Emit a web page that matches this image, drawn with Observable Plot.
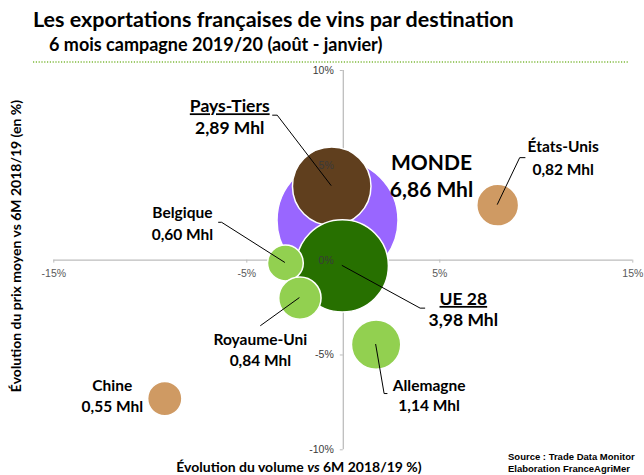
<!DOCTYPE html>
<html><head><meta charset="utf-8">
<script src="https://cdn.jsdelivr.net/npm/d3@7"></script>
<script src="https://cdn.jsdelivr.net/npm/@observablehq/plot@0.6"></script>
<style>
body{margin:0;background:#fff;}
#chart{width:644px;height:475px;}
</style></head><body><div id="chart"></div>
<script>
// ---- data ----
const names = ["MONDE","Pays-Tiers","UE 28","Belgique","Royaume-Uni","Allemagne","États-Unis","Chine"];
const groups = ["Monde","Pays-Tiers","UE 28","UE","UE","UE","Pays tiers","Pays tiers"];
const volumeChange = [-0.3,-0.6,-0.05,-3.0,-2.25,1.7,8.0,-9.25];   // % vs 6M 2018/19
const priceChange = [2.1,3.9,-0.3,-0.15,-2.0,-4.45,2.9,-7.3];      // % vs 6M 2018/19
const volumeMhl = [6.86,2.89,3.98,0.60,0.84,1.14,0.82,0.55];
const xTicks = [-15,-5,5,15];
const yTicks = [10,5,0,-5,-10];
const titleText = "Les exportations françaises de vins par destination";
const subtitleText = "6 mois campagne 2019/20 (août - janvier)";
const yTitle = "Évolution du prix moyen vs 6M 2018/19 (en %)";
const sourceLines = ["Source : Trade Data Monitor","Elaboration FranceAgriMer"];

// ---- styles / layout ----
const groupDomain = ["Monde","Pays-Tiers","UE 28","UE","Pays tiers"];
const groupColors = ["#9966ff","#603f1e","#277000","#92d050","#cf9a63"];
const labelFont = "Lato, 'Noto Sans', sans-serif";
const tickFont = "'Liberation Sans', Arial, sans-serif";
// pixel offsets from bubble centre: name line, value line, font size, leader path
const layout = {
  "MONDE":       {dx: 94,  dy1: -57, dy2: -30, size: 21, leader: null},
  "Pays-Tiers":  {dx: -102, dy1: -79.5, dy2: -57.8, size: 17.5, leader: [[0,0],[-54,-70.5],[-59,-70.5]]},
  "UE 28":       {dx: 121, dy1: 33.5, dy2: 55, size: 17.5, leader: [[0,0],[78.3,42.8],[83.3,42.8]]},
  "Belgique":    {dx: -103, dy1: -50, dy2: -28, size: 15.5, leader: [[0,0],[-63.3,-40.2],[-66.7,-40.2]]},
  "Royaume-Uni": {dx: -39.5, dy1: 42, dy2: 63, size: 15.5, leader: [[0,0],[-39.1,28.2]]},
  "Allemagne":   {dx: 53, dy1: 41, dy2: 61, size: 15.5, leader: [[0,0],[8.5,49.5],[11.8,49.5]]},
  "États-Unis":  {dx: 65.5, dy1: -58, dy2: -35.4, size: 15.5, leader: [[0,0],[22.5,-47],[28.2,-47]]},
  "Chine":       {dx: -52.5, dy1: -12.8, dy2: 8, size: 15.5, leader: null}
};

const rows = names.map((n, i) => ({
  name: n, group: groups[i], vol: volumeChange[i], price: priceChange[i], mhl: volumeMhl[i],
  valueLabel: d3.format(".2f")(volumeMhl[i]).replace(".", ",") + " Mhl"
}));
const pct = d => `${d}%`;

const labelMarks = rows.flatMap(r => {
  const L = layout[r.name];
  return [
    Plot.text([r], {x: "vol", y: "price", text: "name", dx: L.dx, dy: L.dy1, fontSize: L.size,
      fontWeight: "bold", fontFamily: labelFont, fill: "#000", lineAnchor: "middle"}),
    Plot.text([r], {x: "vol", y: "price", text: "valueLabel", dx: L.dx, dy: L.dy2, fontSize: L.size,
      fontWeight: "bold", fontFamily: labelFont, fill: "#000", lineAnchor: "middle"})
  ];
});

function leaders(index, scales) {
  const g = d3.create("svg:g").attr("fill", "none").attr("stroke", "#000").attr("stroke-width", 1);
  rows.forEach(r => {
    const L = layout[r.name];
    if (!L.leader) return;
    const cx = scales.x(r.vol), cy = scales.y(r.price);
    g.append("path").attr("d", d3.line()(L.leader.map(([a, b]) => [cx + a, cy + b])));
  });
  return g.node();
}

const plot = Plot.plot({
  width: 644, height: 475,
  marginTop: 70, marginBottom: 25.7, marginLeft: 53.3, marginRight: 11.7,
  x: {domain: [-15, 15], axis: null},
  y: {domain: [-10, 10], axis: null},
  r: {domain: [0, 6.86], range: [0, 60.5]},
  color: {domain: groupDomain, range: groupColors},
  style: {background: "#fff", overflow: "visible"},
  marks: [
    Plot.ruleY([0], {stroke: "#bdbdbd", strokeWidth: 1.3}),
    Plot.ruleX([0], {stroke: "#bdbdbd", strokeWidth: 1.3}),
    Plot.ruleX(xTicks, {x: d => d, y1: 0, y2: 0, insetBottom: -3, stroke: "#bdbdbd"}),
    Plot.ruleY(yTicks, {y: d => d, x1: 0, x2: 0, insetLeft: -3, stroke: "#bdbdbd"}),
    Plot.dot(rows, {x: "vol", y: "price", r: "mhl", fill: "group", stroke: "#fff", strokeWidth: 1.5, sort: null}),
    leaders,
    ...labelMarks,
    Plot.text(xTicks, {x: d => d, y: 0, text: pct, dy: 13, fontSize: 10.5, fontFamily: tickFont, fill: "#595959"}),
    Plot.text(yTicks, {x: 0, y: d => d, text: pct, dx: -9.5, textAnchor: "end", fontSize: 10.5, fontFamily: tickFont, fill: "#3a3a3a"})
  ]
});

// underline aggregate names
d3.select(plot).selectAll("text").each(function() {
  const t = this.textContent;
  if (t === "Pays-Tiers" || t === "UE 28") d3.select(this).attr("text-decoration", "underline");
});

// header, axis titles, source
const svg = d3.select(plot);
const ann = svg.append("g").attr("font-family", labelFont).attr("font-weight", "bold")
  .attr("fill", "#000").attr("text-anchor", "start");
ann.append("text").attr("x", 33).attr("y", 27).attr("font-size", 21.5).text(titleText);
ann.append("text").attr("x", 49).attr("y", 51).attr("font-size", 18).text(subtitleText);
svg.append("line").attr("x1", 33).attr("x2", 628).attr("y1", 62).attr("y2", 62)
  .attr("stroke", "#7fba3c").attr("stroke-width", 1.3).attr("stroke-dasharray", "1.2,1.6");
const xt = ann.append("text").attr("x", 299).attr("y", 472).attr("font-size", 14).attr("text-anchor", "middle");
xt.append("tspan").text("Évolution du volume ");
xt.append("tspan").attr("font-style", "italic").text("vs");
xt.append("tspan").text(" 6M 2018/19 %)");
ann.append("text").attr("transform", "translate(21,246) rotate(-90)").attr("font-size", 14)
  .attr("text-anchor", "middle").text(yTitle);
const src = svg.append("g").attr("font-family", tickFont).attr("font-weight", "bold")
  .attr("font-size", 9.5).attr("fill", "#000").attr("text-anchor", "start");
sourceLines.forEach((s, i) => src.append("text").attr("x", 508).attr("y", 460 + i * 12).text(s));

document.getElementById("chart").appendChild(plot);
</script>
</body></html>
